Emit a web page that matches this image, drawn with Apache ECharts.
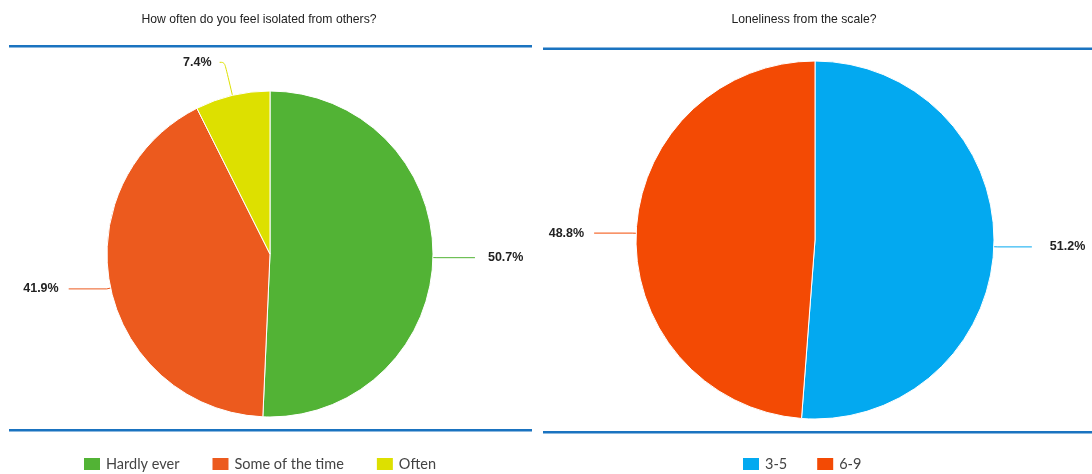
<!DOCTYPE html>
<html>
<head>
<meta charset="utf-8">
<style>html,body{margin:0;padding:0;background:#fff}#c{width:1092px;height:474px}</style>
<script src="https://cdn.jsdelivr.net/npm/echarts@6/dist/echarts.min.js"></script>
</head>
<body>
<div id="c"></div>
<script>
const leftTitle = 'How often do you feel isolated from others?';
const leftCategories = ['Hardly ever', 'Some of the time', 'Often'];
const leftValues = [50.7, 41.9, 7.4];
const leftColors = ['#52b335', '#ec5a1e', '#dde000'];

const rightTitle = 'Loneliness from the scale?';
const rightCategories = ['3-5', '6-9'];
const rightValues = [51.2, 48.8];
const rightColors = ['#03a9f0', '#f34a04'];

const chart = echarts.init(document.getElementById('c'));
const labelStyle = {
  show: true, position: 'outside', color: '#222', fontWeight: 'bold', fontSize: 12.5,
  fontFamily: 'Liberation Sans, Arial, sans-serif',
  formatter: p => p.value.toFixed(1) + '%', distanceToLabelLine: 13
};
function mk(cats, vals, cols, lines, dists) {
  return cats.map((n, i) => ({ name: n, value: vals[i], itemStyle: { color: cols[i] },
    label: { distanceToLabelLine: dists[i] },
    labelLine: Object.assign({ lineStyle: { color: cols[i], width: 1 } }, lines[i]) }));
}
const blue = '#1a73c0';
const titleText = { fontSize: 12.2, fontWeight: 'normal', color: '#222', fontFamily: 'Liberation Sans, Arial, sans-serif' };
const legendText = { fontSize: 14.5, color: '#444', fontFamily: 'Lato' };
chart.setOption({
  animation: false,
  title: [
    { text: leftTitle, left: 254, top: 9, textAlign: 'center', textStyle: titleText },
    { text: rightTitle, left: 799, top: 9, textAlign: 'center', textStyle: titleText }
  ],
  legend: [
    { data: leftCategories, left: 77, top: 451, itemWidth: 18, itemHeight: 14, itemGap: 31, icon: 'rect',
      textStyle: legendText, selectedMode: false },
    { data: rightCategories, left: 736, top: 451, itemWidth: 18, itemHeight: 14, itemGap: 28, icon: 'rect',
      textStyle: legendText, selectedMode: false }
  ],
  graphic: [
    { type: 'rect', shape: { x: 9, y: 45, width: 523, height: 2.5 }, style: { fill: blue } },
    { type: 'rect', shape: { x: 543, y: 47.5, width: 549, height: 2.5 }, style: { fill: blue } },
    { type: 'rect', shape: { x: 9, y: 429, width: 523, height: 2.5 }, style: { fill: blue } },
    { type: 'rect', shape: { x: 543, y: 431, width: 549, height: 2.5 }, style: { fill: blue } }
  ],
  series: [
    { type: 'pie', center: [270, 254], radius: 163, startAngle: 90, clockwise: true,
      itemStyle: { borderColor: '#fff', borderWidth: 1 }, label: labelStyle,
      labelLine: { show: true }, avoidLabelOverlap: false,
      data: mk(leftCategories, leftValues, leftColors, [
        { length: 4, length2: 38 }, { length: 4, length2: 38 }, { length: 34, length2: 5, smooth: 0.4 }
      ], [13, 10, 8]) },
    { type: 'pie', center: [815, 240], radius: 179, startAngle: 90, clockwise: true,
      itemStyle: { borderColor: '#fff', borderWidth: 1 }, label: labelStyle,
      labelLine: { show: true }, avoidLabelOverlap: false,
      data: mk(rightCategories, rightValues, rightColors, [
        { length: 4, length2: 34 }, { length: 4, length2: 38 }
      ], [18, 10]) }
  ]
});
</script>
</body>
</html>
